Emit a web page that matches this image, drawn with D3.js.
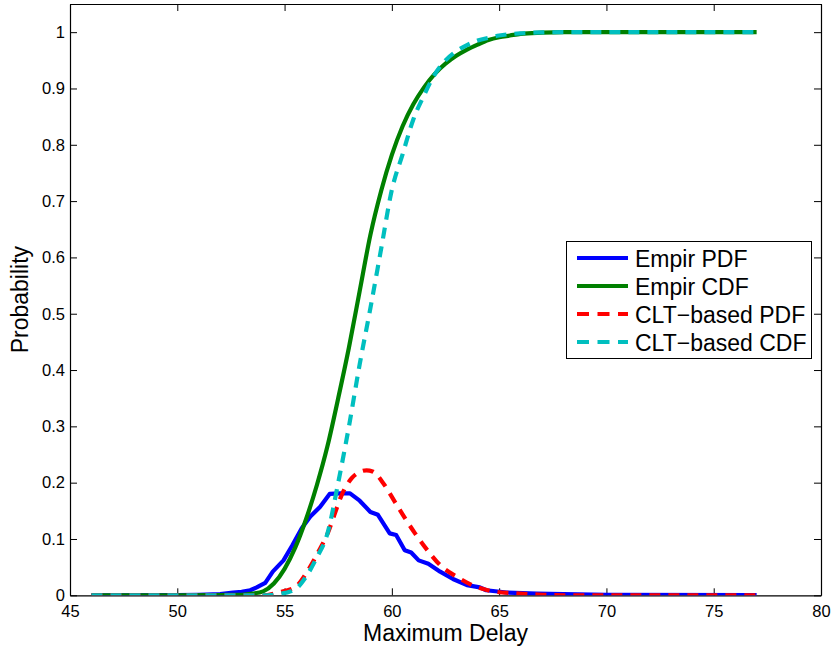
<!DOCTYPE html>
<html><head><meta charset="utf-8">
<script src="https://cdn.jsdelivr.net/npm/d3@7"></script>
<style>body{margin:0;background:#fff}svg{display:block}text{font-family:"Liberation Sans",Arial,Helvetica,sans-serif}</style>
</head><body>
<script>
// ---- data ----
const xTicks = [45,50,55,60,65,70,75,80];
const yTicks = [0,0.1,0.2,0.3,0.4,0.5,0.6,0.7,0.8,0.9,1];
const seriesNames = ["Empir PDF","Empir CDF","CLT\u2212based PDF","CLT\u2212based CDF"];

const empPdfX = [46,50,51,52,52.6,53.0,53.4,53.7,54.1,54.45,54.95,55.35,55.8,56.2,56.65,57.1,57.6,58.05,58.5,59.0,59.35,59.9,60.2,60.6,60.9,61.25,61.7,62.25,62.85,63.5,64.1,64.4,65.35,66.75,68,70,77];
const empPdfY = [0,0.0005,0.001,0.002,0.005,0.006,0.009,0.014,0.022,0.042,0.062,0.088,0.119,0.14,0.157,0.18,0.181,0.181,0.168,0.148,0.143,0.11,0.107,0.080,0.076,0.062,0.056,0.042,0.029,0.018,0.014,0.009,0.005,0.003,0.002,0.001,0.0005];

const empCdfX = [46,50,52,53,53.5,54,54.5,55,55.5,56,56.5,57,57.5,58,58.5,59,59.5,60,60.5,61,61.5,62,62.5,63,63.5,64,64.5,65,65.5,66,67,68,70,77];
const empCdfY = [0,0,0.0005,0.001,0.003,0.007,0.021,0.047,0.085,0.135,0.195,0.265,0.35,0.44,0.54,0.64,0.718,0.782,0.833,0.872,0.902,0.926,0.944,0.958,0.969,0.978,0.986,0.991,0.994,0.997,0.999,1,1,1];

const cltPdfX = [46,54,54.7,55.5,56.1,56.57,57.04,57.35,57.66,58.13,58.5,58.82,59.1,59.6,60.14,60.61,61.08,61.7,62.24,63.02,63.8,64.88,65.8,67,68,77];
const cltPdfY = [0,0,0.005,0.015,0.045,0.077,0.113,0.146,0.178,0.208,0.219,0.222,0.22,0.199,0.166,0.137,0.11,0.078,0.054,0.033,0.017,0.006,0.0035,0.001,0,0];

const cltCdfX = [46,54,54.7,55.5,56,56.5,57,57.5,58,58.5,59,59.5,60,60.5,61,61.5,62,62.5,63,63.5,64,64.5,65,66,67,68,77];
const cltCdfY = [0,0,0.002,0.011,0.033,0.067,0.11,0.20,0.30,0.41,0.51,0.615,0.72,0.783,0.845,0.888,0.925,0.95,0.966,0.977,0.985,0.99,0.994,0.998,0.9995,1,1];

// ---- chart ----
const W = 832, H = 651;
const L = 70, R = 821, T = 4, B = 595.3;
const svg = d3.select("body").append("svg").attr("width", W).attr("height", H);
const x = d3.scaleLinear().domain([45,80]).range([L,R]);
const y = d3.scaleLinear().domain([0,1.05]).range([B,T]);

const zip = (xs, ys) => xs.map((v,i)=>[v, ys[i]]);
const series = [
  {name: seriesNames[0], data: zip(empPdfX, empPdfY), color:"#0000ff", dash:null, curve:d3.curveLinear},
  {name: seriesNames[1], data: zip(empCdfX, empCdfY), color:"#008000", dash:null, curve:d3.curveMonotoneX},
  {name: seriesNames[2], data: zip(cltPdfX, cltPdfY), color:"#ff0000", dash:"11,8", curve:d3.curveMonotoneX},
  {name: seriesNames[3], data: zip(cltCdfX, cltCdfY), color:"#00bfbf", dash:"11,8", curve:d3.curveMonotoneX}
];

// axes
const fmt = d => String(d);
const gx = svg.append("g").attr("transform",`translate(0,${B})`)
  .call(d3.axisBottom(x).tickValues(xTicks).tickSize(-7).tickSizeOuter(0).tickPadding(10).tickFormat(fmt));
const gy = svg.append("g").attr("transform",`translate(${L},0)`)
  .call(d3.axisLeft(y).tickValues(yTicks).tickSize(-7).tickSizeOuter(0).tickPadding(5).tickFormat(fmt));
const gt = svg.append("g").attr("transform",`translate(0,${T})`)
  .call(d3.axisTop(x).tickValues(xTicks).tickSize(-7).tickSizeOuter(0).tickFormat(""));
const gr = svg.append("g").attr("transform",`translate(${R},0)`)
  .call(d3.axisRight(y).tickValues(yTicks).tickSize(-7).tickSizeOuter(0).tickFormat(""));
[gx,gy,gt,gr].forEach(g=>{
  g.selectAll("path.domain").attr("stroke","#000").attr("stroke-width",1.2);
  g.selectAll(".tick line").attr("stroke","#000").attr("stroke-width",1);
  g.selectAll(".tick text").attr("font-size",16.5).attr("fill","#000")
    .style("font-family",'"Liberation Sans",Arial,sans-serif');
});

// lines
const clipId = "clip";
svg.append("clipPath").attr("id",clipId).append("rect").attr("x",L).attr("y",T).attr("width",R-L).attr("height",B-T);
const plot = svg.append("g").attr("clip-path",`url(#${clipId})`);
series.forEach(s=>{
  const line = d3.line().x(d=>x(d[0])).y(d=>y(d[1])).curve(s.curve);
  plot.append("path").datum(s.data).attr("d",line)
    .attr("fill","none").attr("stroke",s.color).attr("stroke-width",4.2)
    .attr("stroke-linejoin","round")
    .attr("stroke-dasharray",s.dash);
});

// axis labels
svg.append("text").attr("x",(L+R)/2).attr("y",641).attr("text-anchor","middle")
  .attr("font-size",23).attr("fill","#000").text("Maximum Delay");
svg.append("text").attr("transform",`translate(28,${(T+B)/2}) rotate(-90)`).attr("text-anchor","middle")
  .attr("font-size",23).attr("fill","#000").text("Probability");

// legend
const lg = svg.append("g");
lg.append("rect").attr("x",566.5).attr("y",241.5).attr("width",245).attr("height",117)
  .attr("fill","#fff").attr("stroke","#000").attr("stroke-width",1);
const rowY = [258,286,314,342];
series.forEach((s,i)=>{
  lg.append("line").attr("x1",577).attr("x2",628).attr("y1",rowY[i]).attr("y2",rowY[i])
    .attr("stroke",s.color).attr("stroke-width",4.2).attr("stroke-dasharray",s.dash ? "12,8.5" : null);
  lg.append("text").attr("x",635).attr("y",rowY[i]+8.5).attr("font-size",23).attr("fill","#000").text(s.name);
});
</script>
</body></html>
